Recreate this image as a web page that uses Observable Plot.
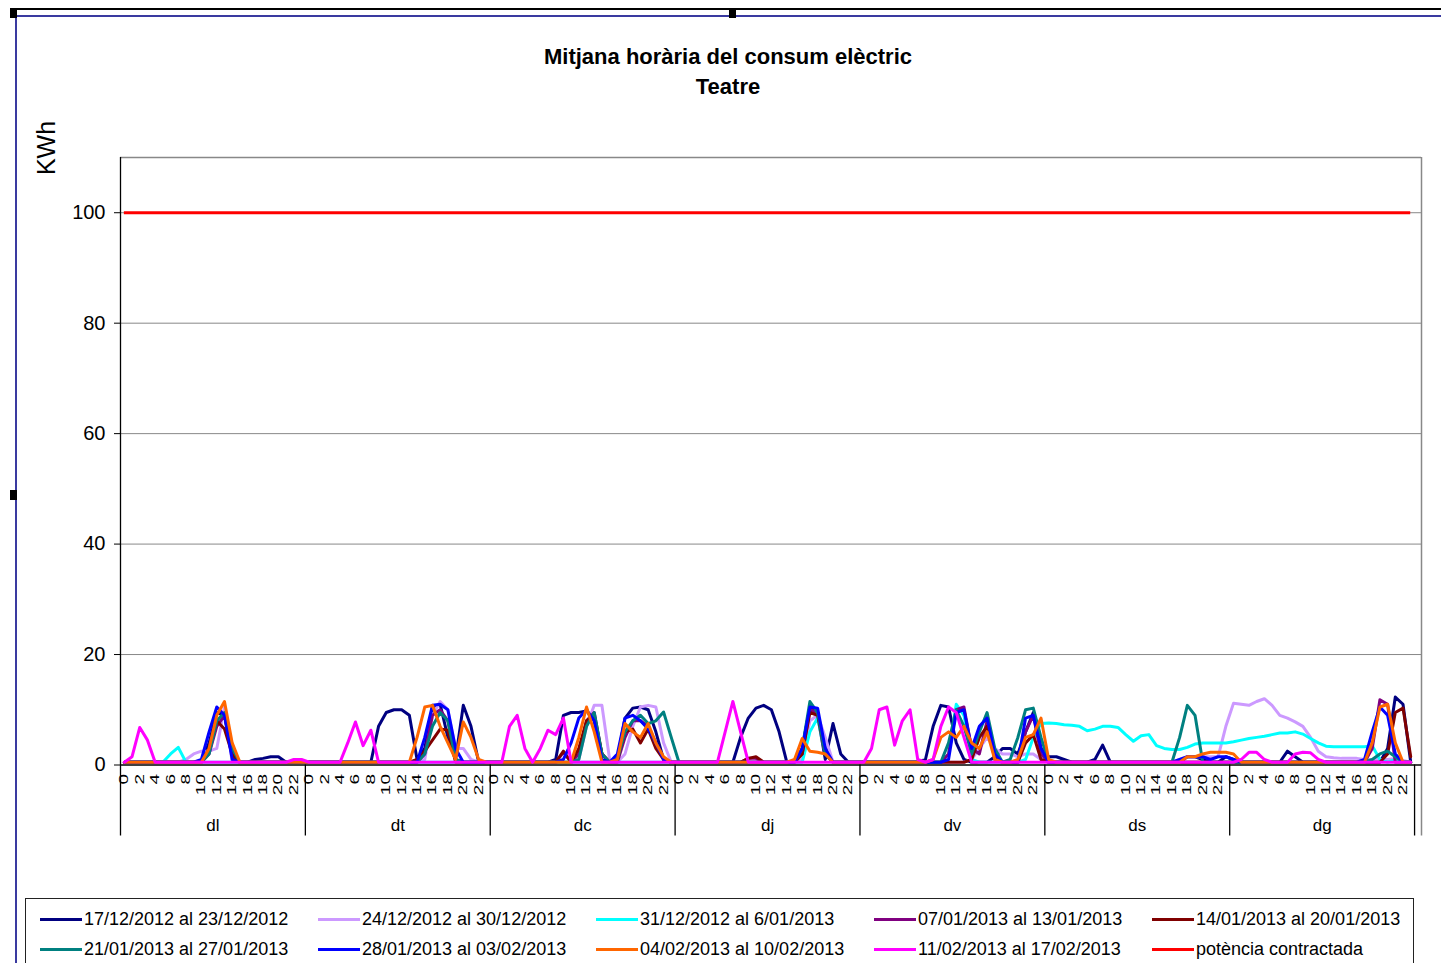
<!DOCTYPE html>
<html>
<head>
<meta charset="utf-8">
<script src="https://cdn.jsdelivr.net/npm/d3@7"></script>
<script src="https://cdn.jsdelivr.net/npm/@observablehq/plot@0.6"></script>
<style>
html,body{margin:0;padding:0;width:1441px;height:963px;overflow:hidden;background:#fff;font-family:"Liberation Sans",Arial,sans-serif;color:#000;}
#chart{position:absolute;left:0;top:0;}
.deco{position:absolute;}
#title{position:absolute;left:0;width:1456px;top:42px;text-align:center;font-weight:bold;font-size:22px;line-height:30px;}
#ylab{position:absolute;left:46px;top:148px;transform:translate(-50%,-50%) rotate(-90deg);font-size:25px;white-space:nowrap;}
#legend{position:absolute;left:25px;top:898px;width:1389px;height:90px;border:1.5px solid #222;box-sizing:border-box;}
.item{position:absolute;display:flex;align-items:center;font-size:18px;white-space:nowrap;height:20px;}
.swatch{width:42px;height:3px;margin-right:2px;}
</style>
</head>
<body>
<div class="deco" style="left:10px;top:8px;width:1431px;height:2px;background:#000;"></div>
<div class="deco" style="left:15px;top:15px;width:1426px;height:2px;background:#3a3aa0;"></div>
<div class="deco" style="left:15px;top:15px;width:2px;height:948px;background:#3a3aa0;"></div>
<div class="deco" style="left:10px;top:8px;width:7px;height:10px;background:#000;"></div>
<div class="deco" style="left:729px;top:8px;width:7px;height:10px;background:#000;"></div>
<div class="deco" style="left:10px;top:490px;width:7px;height:10px;background:#000;"></div>
<div id="chart"></div>
<div id="title">Mitjana horària del consum elèctric<br>Teatre</div>
<div id="ylab">KWh</div>
<div id="legend"></div>
<script>
// ---- categories / tick labels ----
const days = ["dl","dt","dc","dj","dv","ds","dg"];
const hourLabels = [0,2,4,6,8,10,12,14,16,18,20,22];
const yTicks = [0,20,40,60,80,100];
const potenciaContractada = 100;

// ---- series values (168 hourly points: 7 days x 24 h) ----
const s1712 = [
 0.5,0.5,0.5,0.5,0.5,0.5,0.5,0.5,0.5,0.5,0.5,4,9.5,9,1.5,0.5,0.5,1,1.2,1.5,1.5,0.5,0.5,0.5,
 0.5,0.5,0.5,0.5,0.5,0.5,0.5,0.5,0.5,7,9.5,10,10,9,1,3,10.5,11,5,1,10.8,7,0.5,0.5,
 0.5,0.5,0.5,0.5,0.5,0.5,0.5,0.5,1,9,9.5,9.5,9.8,8,2,0.5,1,8.5,10.3,10.5,10,6,1,0.5,
 0.5,0.5,0.5,0.5,0.5,0.5,0.5,0.5,5,8.5,10.3,10.8,10,6,0.5,0.5,3,10.5,9,1,7.5,2,0.5,0.5,
 0.5,0.5,0.5,0.5,0.5,0.5,0.5,0.5,1,7,10.8,10.5,4,1,0.5,0.5,0.5,1.5,3,3,2,6,9.5,3,
 1.5,1.5,1,0.5,0.5,0.5,1,3.6,0.5,0.5,0.5,0.5,0.5,0.5,0.5,0.5,0.5,0.5,1.5,1.5,1,0.5,0.5,1.5,
 1,0.5,0.5,0.5,0.5,0.5,0.5,2.5,1.5,0.5,0.5,0.5,0.5,0.5,0.5,0.5,0.5,0.5,0.5,0.5,3,12.3,11,0.5
];
const s2412 = [
 0.5,0.5,0.5,0.5,0.5,0.5,0.5,0.5,1,2,2.5,2.5,3,10.5,0.5,0.5,0.5,0.5,0.5,0.5,0.5,0.5,0.5,0.5,
 0.5,0.5,0.5,0.5,0.5,0.5,0.5,0.5,0.5,0.5,0.5,0.5,0.5,0.5,0.5,1,9,11.5,10,3,3,1,0.5,0.5,
 0.5,0.5,0.5,0.5,0.5,0.5,0.5,0.5,0.5,0.5,0.5,1,7,10.8,10.8,1,0.5,2,7,10.5,10.8,10.5,4,0.5,
 0.5,0.5,0.5,0.5,0.5,0.5,0.5,0.5,0.5,0.5,0.5,0.5,0.5,0.5,0.5,0.5,1,8,9,5,0.5,0.5,0.5,0.5,
 0.5,0.5,0.5,0.5,0.5,0.5,0.5,0.5,0.5,0.5,0.5,0.5,0.5,0.5,1,3,5,3,2,2,1.5,2,2,1,
 0.5,0.5,0.5,0.5,0.5,0.5,0.5,0.5,0.5,0.5,0.5,0.5,0.5,0.5,0.5,0.5,0.5,1,1.5,1.5,1.5,1.5,1.5,7,
 11.2,11,10.8,11.5,12,10.8,9,8.5,7.8,7,5,2.5,1.5,1.3,1.2,1.2,1.2,1,1,1,1,1.2,0.8,0.5
];
const s3112 = [
 0.5,0.5,0.5,0.5,0.5,0.5,2,3.2,0.5,0.5,0.5,0.5,0.5,0.5,0.5,0.5,0.5,0.5,0.5,0.5,0.5,0.5,0.5,0.5,
 0.5,0.5,0.5,0.5,0.5,0.5,0.5,0.5,0.5,0.5,0.5,0.5,0.5,0.5,0.5,0.5,0.5,0.5,0.5,0.5,0.5,0.5,0.5,0.5,
 0.5,0.5,0.5,0.5,0.5,0.5,0.5,0.5,0.5,0.5,0.5,0.5,0.5,0.5,0.5,0.5,0.5,0.5,0.5,0.5,0.5,0.5,0.5,0.5,
 0.5,0.5,0.5,0.5,0.5,0.5,0.5,0.5,0.5,0.5,0.5,0.5,0.5,0.5,0.5,0.5,0.5,6,8.5,2,0.5,0.5,0.5,0.5,
 0.5,0.5,0.5,0.5,0.5,0.5,0.5,0.5,0.5,0.5,0.5,2,11,9,1,0.5,0.5,0.5,0.5,0.5,0.5,1,5,7.5,
 7.6,7.5,7.3,7.2,7,6.2,6.5,7,7,6.8,5.5,4.3,5.3,5.5,3.5,3,2.8,2.8,3.2,3.8,4,4,4,4,
 4.2,4.5,4.8,5,5.2,5.5,5.8,5.8,6,5.6,4.8,4,3.4,3.3,3.3,3.3,3.3,3.3,3.5,1,0.5,1,0.5,0.5
];
const s0701 = [
 0.5,0.5,0.5,0.5,0.5,0.5,0.5,0.5,0.5,0.5,0.5,2,7,9,2,0.5,0.5,0.5,0.5,0.5,0.5,0.5,0.5,0.5,
 0.5,0.5,0.5,0.5,0.5,0.5,0.5,0.5,0.5,0.5,0.5,0.5,0.5,0.5,0.5,2,9,10,8,1,0.5,0.5,0.5,0.5,
 0.5,0.5,0.5,0.5,0.5,0.5,0.5,0.5,0.5,2.3,0.5,2,8,9.5,2,0.5,0.5,5,8,8,7,4,1,0.5,
 0.5,0.5,0.5,0.5,0.5,0.5,0.5,0.5,0.5,1.2,1.2,0.5,0.5,0.5,0.5,0.5,2,10,9.5,2,0.5,0.5,0.5,0.5,
 0.5,0.5,0.5,0.5,0.5,0.5,0.5,0.5,0.5,0.5,0.5,2,10,10.5,3,2,8,1,0.5,0.5,0.5,6,9,2,
 0.5,0.5,0.5,0.5,0.5,0.5,0.5,0.5,0.5,0.5,0.5,0.5,0.5,0.5,0.5,0.5,0.5,0.5,0.5,0.5,0.5,0.5,0.5,0.5,
 0.5,0.5,0.5,0.5,0.5,0.5,0.5,0.5,0.5,0.5,0.5,0.5,0.5,0.5,0.5,0.5,0.5,0.5,3,11.8,11,0.5,0.5,0.5
];
const s1401 = [
 0.5,0.5,0.5,0.5,0.5,0.5,0.5,0.5,0.5,0.5,0.5,3,8,6.5,2,0.5,0.5,0.5,0.5,0.5,0.5,0.5,0.5,0.5,
 0.5,0.5,0.5,0.5,0.5,0.5,0.5,0.5,0.5,0.5,0.5,0.5,0.5,0.5,1,2.5,4.5,6.5,6.3,0.5,0.5,0.5,0.5,0.5,
 0.5,0.5,0.5,0.5,0.5,0.5,0.5,0.5,0.5,2.5,0.5,3,8,9,2,0.5,1,6,6.5,4,6.5,3,1,0.5,
 0.5,0.5,0.5,0.5,0.5,0.5,0.5,0.5,0.5,1.2,1.5,0.5,0.5,0.5,0.5,0.5,2,9.5,9,2,0.5,0.5,0.5,0.5,
 0.5,0.5,0.5,0.5,0.5,0.5,0.5,0.5,0.5,0.5,0.5,0.5,0.5,0.5,1,5,7,1.5,0.5,0.5,0.5,4,5.5,1,
 0.5,0.5,0.5,0.5,0.5,0.5,0.5,0.5,0.5,0.5,0.5,0.5,0.5,0.5,0.5,0.5,0.5,0.5,0.5,0.5,0.5,0.5,0.5,0.5,
 0.5,0.5,0.5,0.5,0.5,0.5,0.5,0.5,0.5,0.5,0.5,0.5,0.5,0.5,0.5,0.5,0.5,0.5,0.5,0.5,2,9.5,10.3,1.5
];
const s2101 = [
 0.5,0.5,0.5,0.5,0.5,0.5,0.5,0.5,0.5,0.5,0.5,2,8,9.5,3,0.5,0.5,0.5,0.5,0.5,0.5,0.5,0.5,0.5,
 0.5,0.5,0.5,0.5,0.5,0.5,0.5,0.5,0.5,0.5,0.5,0.5,0.5,0.5,0.5,2,7,9.5,8,1,0.5,0.5,0.5,0.5,
 0.5,0.5,0.5,0.5,0.5,0.5,0.5,0.5,0.5,0.5,0.5,1,7,9.5,2,0.5,1,6,8,9,7.5,8,9.6,5,
 0.5,0.5,0.5,0.5,0.5,0.5,0.5,0.5,0.5,0.5,0.5,0.5,0.5,0.5,0.5,0.5,3,11.5,9.5,2,0.5,0.5,0.5,0.5,
 0.5,0.5,0.5,0.5,0.5,0.5,0.5,0.5,0.5,0.5,0.5,4,10,7,2,6,9.5,3,0.5,1,5,10,10.3,5,
 0.5,0.5,0.5,0.5,0.5,0.5,0.5,0.5,0.5,0.5,0.5,0.5,0.5,0.5,0.5,0.5,0.5,5,10.8,9,0.5,0.5,0.5,0.5,
 0.5,0.5,0.5,0.5,0.5,0.5,0.5,0.5,0.5,0.5,0.5,0.5,0.5,0.5,0.5,0.5,0.5,0.5,1,2,2.5,1.5,0.5,0.5
];
const s2801 = [
 0.5,0.5,0.5,0.5,0.5,0.5,0.5,0.5,0.5,0.5,1,6,10.5,9,1,0.5,0.5,0.5,0.5,0.5,0.5,0.5,0.5,0.5,
 0.5,0.5,0.5,0.5,0.5,0.5,0.5,0.5,0.5,0.5,0.5,0.5,0.5,0.5,0.5,5,10.8,11,10,3,0.5,0.5,0.5,0.5,
 0.5,0.5,0.5,0.5,0.5,0.5,0.5,0.5,0.5,1,4,8.5,10,8,1,0.5,2,8.5,9,8,6.5,4,1,0.5,
 0.5,0.5,0.5,0.5,0.5,0.5,0.5,0.5,0.5,0.5,0.5,0.5,0.5,0.5,0.5,0.5,3,10.5,10.3,3,0.5,0.5,0.5,0.5,
 0.5,0.5,0.5,0.5,0.5,0.5,0.5,0.5,0.5,0.5,0.5,1,9.5,10,3,7,8.5,2,0.5,0.5,0.5,8.5,9,3,
 0.5,0.5,0.5,0.5,0.5,0.5,0.5,0.5,0.5,0.5,0.5,0.5,0.5,0.5,0.5,0.5,0.5,1,1.5,1.5,1.5,1,1.5,1.5,
 1,0.5,0.5,0.5,0.5,0.5,0.5,0.5,0.5,0.5,0.5,0.5,0.5,0.5,0.5,0.5,0.5,1,6,10.5,9,2,0.5,0.5
];
const s0402 = [
 0.5,0.5,0.5,0.5,0.5,0.5,0.5,0.5,0.5,0.5,0.5,3,9,11.5,4,0.5,0.5,0.5,0.5,0.5,0.5,0.5,0.5,0.5,
 0.5,0.5,0.5,0.5,0.5,0.5,0.5,0.5,0.5,0.5,0.5,0.5,0.5,0.5,5,10.5,10.8,7,4,1,7.8,5,1,0.5,
 0.5,0.5,0.5,0.5,0.5,0.5,0.5,0.5,0.5,0.5,0.5,5,10.5,6,0.5,0.5,1,7.5,6,5,7.5,4,1.5,0.5,
 0.5,0.5,0.5,0.5,0.5,0.5,0.5,0.5,0.5,0.5,0.5,0.5,0.5,0.5,0.5,1,4.8,2.5,2.3,2,0.5,0.5,0.5,0.5,
 0.5,0.5,0.5,0.5,0.5,0.5,0.5,0.5,0.5,1,5,6,5,7,4,3,6,1,0.5,0.5,1,5,5.5,8.5,
 1,0.5,0.5,0.5,0.5,0.5,0.5,0.5,0.5,0.5,0.5,0.5,0.5,0.5,0.5,0.5,0.5,0.5,1.5,1.5,2,2.3,2.3,2.3,
 2,0.5,0.5,0.5,0.5,0.5,0.5,0.5,0.5,0.5,0.5,0.5,0.5,0.5,0.5,0.5,0.5,0.5,4,10.5,11,4,0.5,0.5
];
const s1102 = [
 0.5,1.5,6.8,4.5,0.5,0.5,0.5,0.5,0.5,0.5,0.5,0.5,0.5,0.5,0.5,0.5,0.5,0.5,0.5,0.5,0.5,0.5,1,1,
 0.5,0.5,0.5,0.5,0.5,4,7.8,3.5,6.3,0.5,0.5,0.5,0.5,0.5,0.5,0.5,0.5,0.5,0.5,0.5,0.5,0.5,0.5,0.5,
 0.5,0.5,7,9,3,0.5,3,6.3,5.5,8.5,0.5,0.5,0.5,0.5,0.5,0.5,0.5,0.5,0.5,0.5,0.5,0.5,0.5,0.5,
 0.5,0.5,0.5,0.5,0.5,0.5,6,11.5,6,0.5,0.5,0.5,0.5,0.5,0.5,0.5,0.5,0.5,0.5,0.5,0.5,0.5,0.5,0.5,
 0.5,3,10,10.5,3.6,8,10,1,0.5,1,7,10.5,9.5,5,0.5,0.5,0.5,0.5,0.5,0.5,0.5,0.5,0.5,0.5,
 0.5,0.5,0.5,0.5,0.5,0.5,0.5,0.5,0.5,0.5,0.5,0.5,0.5,0.5,0.5,0.5,0.5,0.5,0.5,0.5,0.5,0.5,0.5,0.5,
 0.5,1,2.3,2.3,1,0.5,0.5,0.5,2,2.3,2.2,1,0.5,0.5,0.5,0.5,0.5,0.5,0.5,0.5,0.5,0.5,0.5,0.5
];

const seriesNames = [
  "17/12/2012 al 23/12/2012","24/12/2012 al 30/12/2012","31/12/2012 al 6/01/2013",
  "07/01/2013 al 13/01/2013","14/01/2013 al 20/01/2013","21/01/2013 al 27/01/2013",
  "28/01/2013 al 03/02/2013","04/02/2013 al 10/02/2013","11/02/2013 al 17/02/2013"
];
const seriesValues = [s1712, s2412, s3112, s0701, s1401, s2101, s2801, s0402, s1102];
const seriesColors = ["#000080","#CC99FF","#00FFFF","#800080","#800000","#008080","#0000FF","#FF6600","#FF00FF"];
const redName = "potència contractada";
const redColor = "#FF0000";

// ---- build chart ----
const W = 1441, H = 900, mL = 120, mR = 20, mT = 157, mB = 135.5;
const frameW = W - mL - mR, frameH = H - mT - mB;
const nH = days.length * 24;

const hourTickData = days.flatMap((d, k) => hourLabels.map(h => ({i: k*24 + h, label: String(h)})));
const dayBounds = d3.range(days.length + 1).map(k => k*24 - 0.5);

const lineMarks = seriesValues.map((vals, k) =>
  Plot.line(vals, {x: (d, i) => i, y: d => d, stroke: seriesColors[k], strokeWidth: 3, strokeLinejoin: "round"})
);

const chart = Plot.plot({
  width: W, height: H,
  marginLeft: mL, marginRight: mR, marginTop: mT, marginBottom: mB,
  x: {domain: [-0.5, nH + 0.4], axis: null},
  y: {domain: [0, 110], axis: null},
  style: {background: "transparent", fontFamily: "'Liberation Sans', Arial, sans-serif", color: "#000", overflow: "visible"},
  marks: [
    Plot.ruleY([20,40,60,80,100], {stroke: "#888", strokeWidth: 1}),
    Plot.ruleY([110], {stroke: "#888", strokeWidth: 1.5}),
    Plot.ruleX([nH + 0.4], {stroke: "#888", strokeWidth: 1.5, insetBottom: -71}),
    Plot.ruleX(dayBounds.slice(1), {x: d => d, stroke: "#000", strokeWidth: 1.3, insetTop: frameH, insetBottom: -71}),
    Plot.ruleX([dayBounds[0]], {x: d => d, stroke: "#000", strokeWidth: 1.3, insetBottom: -71}),
    Plot.ruleY(yTicks, {y: d => d, stroke: "#000", insetLeft: -6, insetRight: frameW}),
    Plot.ruleY([0], {stroke: "#000", strokeWidth: 1.3}),
    Plot.text(yTicks, {x: () => -0.5, y: d => d, text: d => String(d), textAnchor: "end", dx: -15, fontSize: 20}),
    Plot.text(hourTickData, {x: "i", y: () => 0, text: "label", rotate: -90, textAnchor: "end", dy: 9, fontSize: 19}),
    Plot.text(days, {x: (d, k) => k*24 + 11.5, y: () => 0, text: d => d, dy: 61, fontSize: 17}),
    ...lineMarks,
    Plot.ruleY([potenciaContractada], {x1: 0, x2: nH - 1, stroke: redColor, strokeWidth: 3})
  ]
});
document.getElementById("chart").appendChild(chart);

// narrow the rotated hour labels (condensed look of the original)
d3.select(chart).selectAll("text").filter(function() {
  return (this.getAttribute("transform") || "").includes("rotate(-90");
}).attr("transform", function() { return this.getAttribute("transform") + " scale(1,0.65)"; });

// ---- legend ----
const legend = document.getElementById("legend");
const legendItems = seriesNames.map((n, k) => ({name: n, color: seriesColors[k]})).concat([{name: redName, color: redColor}]);
legendItems.forEach((it, k) => {
  const row = Math.floor(k / 5), col = k % 5;
  const el = document.createElement("div");
  el.className = "item";
  el.style.left = (14 + col * 278) + "px";
  el.style.top = (10 + row * 30) + "px";
  const sw = document.createElement("div");
  sw.className = "swatch";
  sw.style.background = it.color;
  const tx = document.createElement("span");
  tx.textContent = it.name;
  el.appendChild(sw); el.appendChild(tx);
  legend.appendChild(el);
});
</script>
</body>
</html>
